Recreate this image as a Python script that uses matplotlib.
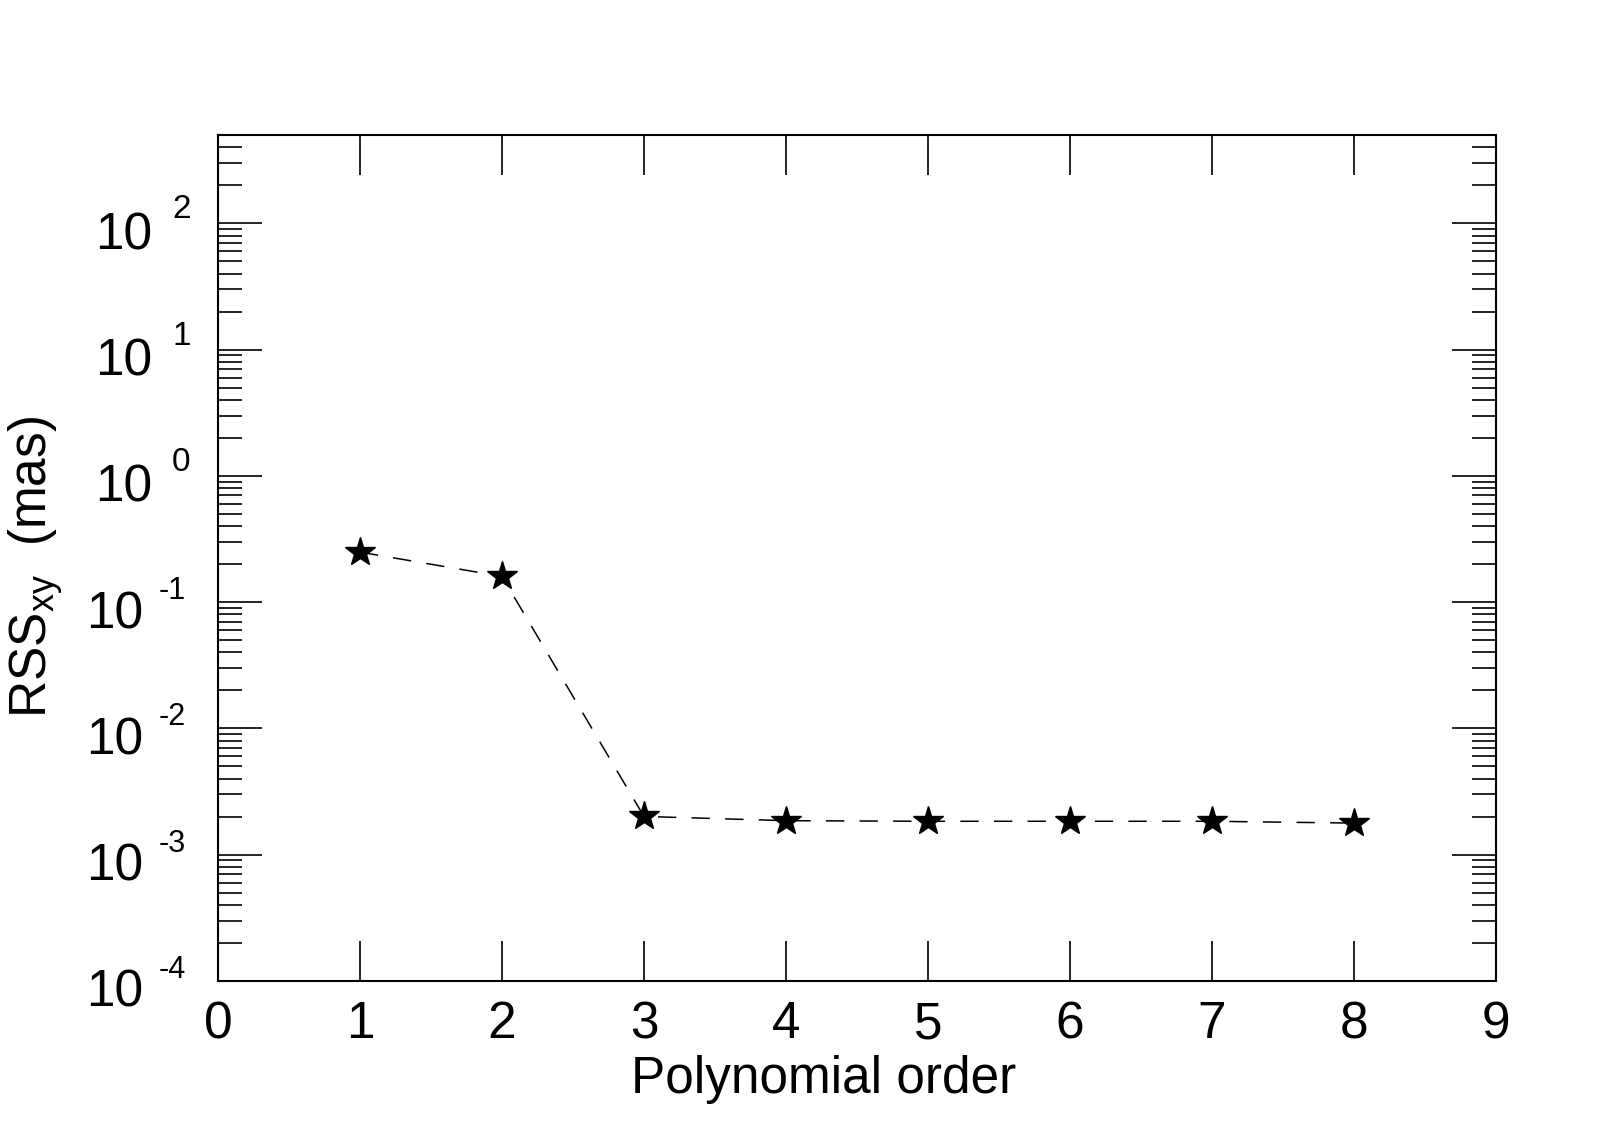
import matplotlib
matplotlib.use("Agg")
import matplotlib.pyplot as plt
from matplotlib.ticker import LogLocator, NullFormatter

plt.rcParams['font.family'] = 'Liberation Sans'
plt.rcParams['mathtext.fontset'] = 'custom'
plt.rcParams['mathtext.rm'] = 'Liberation Sans'
plt.rcParams['mathtext.it'] = 'Liberation Sans:italic'

# data
order = [1, 2, 3, 4, 5, 6, 7, 8]
rss_xy = [0.249, 0.16, 2.01e-3, 1.86e-3, 1.84e-3, 1.84e-3, 1.84e-3, 1.78e-3]
x_ticks = [0, 1, 2, 3, 4, 5, 6, 7, 8, 9]
decades = [-4, -3, -2, -1, 0, 1, 2]

fig = plt.figure(figsize=(16.23, 11.32), dpi=100)
ax = fig.add_axes([0.1343, 0.1334, 0.7874, 0.7473])

ax.plot(order, rss_xy, color='black', lw=1.1, dashes=(12, 10),
        marker='*', ms=22, mfc='black', mec='black')

ax.set_yscale('log')
ax.set_xlim(0, 9)
ax.set_ylim(1e-4, 500)
ax.set_xticks(x_ticks)
ax.yaxis.set_major_locator(LogLocator(base=10, numticks=20))
ax.yaxis.set_minor_locator(LogLocator(base=10, subs=range(2, 10), numticks=100))
ax.yaxis.set_minor_formatter(NullFormatter())

ax.tick_params(which='both', direction='in', top=True, right=True, width=1.2, colors='black')
ax.tick_params(axis='x', which='major', length=29, labelsize=37, pad=14)
ax.tick_params(axis='y', which='major', length=32, labelleft=False)
ax.tick_params(axis='y', which='minor', length=17)
for s in ax.spines.values():
    s.set_linewidth(1.5)

# y labels drawn as "10" plus a separate raised exponent
ytr = ax.get_yaxis_transform()
for e in decades:
    y = 10.0 ** e
    if e >= 0:
        base_dx, exp_dx, exp_dy, exp_fs = -47.5, -33, 3.6, 24
    else:
        base_dx, exp_dx, exp_dy, exp_fs = -54, -43, 2.2, 22
    ax.annotate('10', xy=(0, y), xycoords=ytr, xytext=(base_dx, -18.7),
                textcoords='offset points', ha='right', va='baseline', fontsize=37)
    ax.annotate(str(e), xy=(0, y), xycoords=ytr, xytext=(exp_dx, exp_dy),
                textcoords='offset points', ha='left', va='baseline', fontsize=exp_fs)

ax.set_xlabel('Polynomial order', fontsize=37)
ax.xaxis.set_label_coords(0.474, -0.087)
ax.set_ylabel(r'RSS$_{\mathregular{xy}}$  (mas)', fontsize=37)
ax.yaxis.set_label_coords(-0.120, 0.49)

fig.savefig('out.png', dpi=100)
